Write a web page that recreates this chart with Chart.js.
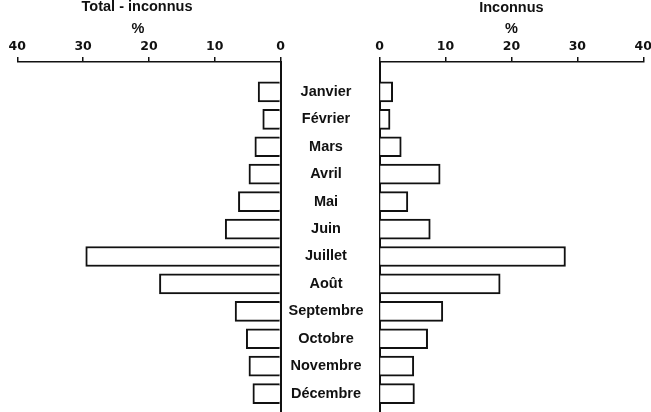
<!DOCTYPE html>
<html><head><meta charset="utf-8">
<script src="https://cdn.jsdelivr.net/npm/chart.js@4"></script>
<style>
html,body{margin:0;padding:0;background:#fff;overflow:hidden;width:651px;height:412px;position:relative}
#cL{position:absolute;left:0;top:-3px}
#cR{position:absolute;left:282px;top:-3px}
</style></head><body>
<canvas id="cL" width="292" height="415"></canvas>
<canvas id="cR" width="380" height="415"></canvas>
<script>
const months = ['Janvier','Février','Mars','Avril','Mai','Juin','Juillet','Août','Septembre','Octobre','Novembre','Décembre'];
const totalMinusUnknown = [3.4,2.7,3.9,4.8,6.4,8.4,29.6,18.4,6.9,5.2,4.8,4.2];
const unknown = [2.0,1.6,3.3,9.2,4.3,7.7,28.2,18.3,9.6,7.3,5.2,5.3];
const xTickValues = [0,10,20,30,40];
const leftTitle = ['Total - inconnus','%'];
const rightTitle = ['Inconnus','%'];

const INK = '#111';
const labelFont = {family:'"Liberation Sans", Arial, sans-serif', size:14.5, weight:'bold'};
const tickFont = {family:'"DejaVu Sans", sans-serif', size:12.5, weight:'bold'};
const titleFont = {family:'"Liberation Sans", Arial, sans-serif', size:14.5, weight:'bold', lineHeight:1.483};

const mctx = document.createElement('canvas').getContext('2d');
mctx.font = 'bold 14.5px "Liberation Sans"';
const widest = Math.max(...months.map(m => mctx.measureText(m).width));
const yAxisWidthR = 97.5;
const labelCenter = 44;
const labelPad = yAxisWidthR - labelCenter - widest / 2;

function yScale(position, showLabels, width, pad) {
  return {
    type: 'linear', position, reverse: true, min: -1.09, max: 11.67, z: 1, offset: false,
    afterBuildTicks: ax => { ax.ticks = months.map((m, i) => ({value: i})); },
    afterFit: ax => { ax.width = width; ax.paddingTop = 0; ax.paddingBottom = 0; },
    grid: {display: true, drawOnChartArea: false, drawTicks: false, offset: false},
    border: {display: true, color: INK, width: 2},
    ticks: {display: showLabels, color: INK, font: labelFont, crossAlign: 'center', padding: pad,
      callback: v => months[v] ?? ''}
  };
}
function xScale(reverse, title) {
  return {
    type: 'linear', position: 'top', reverse, min: 0, max: 40,
    afterBuildTicks: ax => { ax.ticks = xTickValues.map(v => ({value: v})); },
    grid: {display: true, drawOnChartArea: false, drawTicks: true, tickLength: 5, color: INK, lineWidth: 1.5},
    border: {display: true, color: INK, width: 1.5},
    ticks: {color: INK, font: tickFont, padding: 2.5, maxRotation: 0},
    title: title ? {display: true, text: title, color: INK, font: titleFont, padding: {top: 0, bottom: -3}} : {display: false}
  };
}
function dataset(vals) {
  return {
    data: vals.map((v, i) => ({x: v, y: i})),
    backgroundColor: '#fff', borderColor: INK, borderWidth: 2, barThickness: 20
  };
}

// Draws the left panel's two-line heading, centred where the original places it.
const leftHeading = {
  id: 'leftHeading',
  afterDraw(chart) {
    const ctx = chart.ctx;
    ctx.save();
    ctx.fillStyle = INK;
    ctx.font = 'bold 14.5px "Liberation Sans", Arial, sans-serif';
    ctx.textAlign = 'center';
    ctx.textBaseline = 'middle';
    ctx.fillText(leftTitle[0], 137, 10);
    ctx.fillText(leftTitle[1], 138, 31.5);
    ctx.restore();
  }
};

new Chart(document.getElementById('cL'), {
  type: 'bar',
  data: {datasets: [dataset(totalMinusUnknown)]},
  options: {
    indexAxis: 'y', responsive: false, animation: false,
    layout: {padding: {left: 17.3, right: 0, top: 40, bottom: 0}},
    plugins: {legend: {display: false}, tooltip: {enabled: false}, title: {display: false}},
    scales: {x: xScale(true, null), y: yScale('right', false, 11.5, 0)}
  },
  plugins: [leftHeading]
});

new Chart(document.getElementById('cR'), {
  type: 'bar',
  data: {datasets: [dataset(unknown)]},
  options: {
    indexAxis: 'y', responsive: false, animation: false,
    layout: {padding: {left: 0, right: 18.7, top: 0, bottom: 0}},
    plugins: {legend: {display: false}, tooltip: {enabled: false}},
    scales: {x: xScale(false, rightTitle), y: yScale('left', true, yAxisWidthR, labelPad)}
  }
});
</script>
</body></html>
